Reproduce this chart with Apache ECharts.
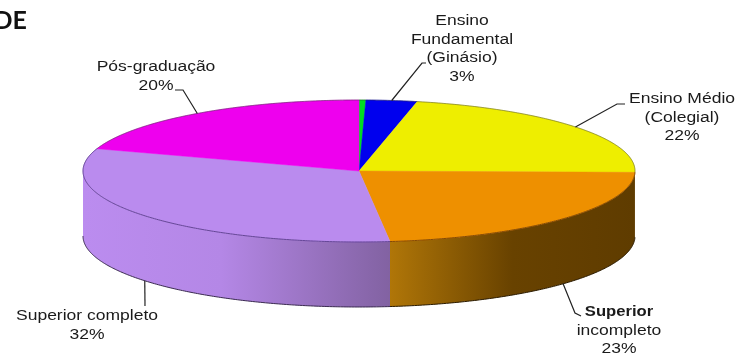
<!DOCTYPE html>
<html>
<head>
<meta charset="utf-8">
<style>html,body{margin:0;padding:0;background:#fff}#c{width:736px;height:355px}</style>
<script src="https://cdn.jsdelivr.net/npm/echarts@6/dist/echarts.min.js"></script>
</head>
<body>
<div id="c"></div>
<script>
const titleText = 'DE';
const categories = ['', 'Ensino Fundamental (Ginásio)', 'Ensino Médio (Colegial)', 'Superior incompleto', 'Superior completo', 'Pós-graduação'];
const values = [0.4, 3, 22, 23, 32, 20];
const labelLines = [
  [],
  ['Ensino', 'Fundamental', '(Ginásio)', '3%'],
  ['Ensino Médio', '(Colegial)', '22%'],
  ['Superior', 'incompleto', '23%'],
  ['Superior completo', '32%'],
  ['Pós-graduação', '20%']
];
const topColors = ['#00dd22', '#0000ee', '#eeee00', '#ee9000', '#ba8bee', '#ee00ee'];
const rimColors = [null, null, null, '#7a4000', '#5a3c8c', null];
const bottomEdgeColors = [null, null, null, '#2a1a00', '#3a2a50', null];
const wallStops = [
  null, null, null,
  [{offset: 0, color: '#b07608'}, {offset: 0.5, color: '#684200'}, {offset: 1, color: '#5f3c00'}],
  [{offset: 0, color: '#bb8cef'}, {offset: 0.45, color: '#b487e6'}, {offset: 1, color: '#8262a2'}],
  null
];
// layout
const cx = 359, cy = 171, ra = 276, rb = 71, depth = 65;
const labelCenters = [null, [462, 21], [682, 99], [619, 312], [87, 316], [156, 67]];
const lineStep = 18.8;
const leaderBends = [
  null,
  [[422, 63], [426, 63]],
  [[617, 104], [625, 104]],
  [[575, 313], [581, 316]],
  [[145, 306]],
  [[183, 90], [175, 90]]
];
const boldFirstLine = [false, false, false, true, false, false];
const fontPx = 14, textStretch = 1.25;

const total = values.reduce((a, b) => a + b, 0);
const P = (t, dy) => [cx + ra * Math.sin(t), cy - rb * Math.cos(t) + (dy || 0)];
function arc(t0, t1, dy) {
  const n = Math.max(2, Math.ceil(Math.abs(t1 - t0) / 0.01));
  const pts = [];
  for (let i = 0; i <= n; i++) pts.push(P(t0 + (t1 - t0) * i / n, dy));
  return pts;
}
const HALF = Math.PI / 2;

function renderItem(params, api) {
  const i = params.dataIndex;
  let before = 0;
  for (let k = 0; k < i; k++) before += values[k];
  const t0 = before / total * 2 * Math.PI;
  const t1 = (before + api.value(0)) / total * 2 * Math.PI;
  const mid = (t0 + t1) / 2;
  const children = [];

  // side wall: only the front half of the disc is visible
  const w0 = Math.max(t0, HALF), w1 = Math.min(t1, 3 * HALF);
  if (wallStops[i] && w1 > w0) {
    const upper = arc(w0, w1, 0), lower = arc(w1, w0, depth);
    const xs = upper.map(p => p[0]);
    const xa = Math.min.apply(null, xs), xb = Math.max.apply(null, xs);
    const g = new echarts.graphic.LinearGradient(xa, 0, xb, 0, wallStops[i], true);
    children.push({ type: 'polygon', shape: { points: upper.concat(lower) },
      style: { fill: g, stroke: 'none' }, z2: 1 });
    children.push({ type: 'polyline', shape: { points: arc(w0, w1, depth) },
      style: { fill: 'none', stroke: bottomEdgeColors[i], lineWidth: 1 }, z2: 2 });
  }

  // top face
  const top = [[cx, cy]].concat(arc(t0, t1, 0));
  children.push({ type: 'polygon', shape: { points: top },
    style: { fill: topColors[i], stroke: topColors[i], lineWidth: 0.5 }, z2: 3 });
  children.push({ type: 'polyline', shape: { points: arc(t0, t1, 0) },
    style: { fill: 'none', stroke: rimColors[i] || '#333', lineWidth: 1, opacity: rimColors[i] ? 0.9 : 0.45 }, z2: 4 });

  // leader
  if (leaderBends[i]) {
    const front = Math.cos(mid) < 0;
    const anchor = P(mid, front ? depth : 0);
    children.push({ type: 'polyline', shape: { points: [anchor].concat(leaderBends[i]) },
      style: { fill: 'none', stroke: '#222', lineWidth: 1.2 }, z2: 5 });
  }

  // label
  if (labelCenters[i]) {
    labelLines[i].forEach((line, j) => {
      const bold = boldFirstLine[i] && j === 0;
      children.push({
        type: 'text', x: labelCenters[i][0], y: labelCenters[i][1] + j * lineStep,
        scaleX: bold ? textStretch * 0.95 : textStretch, z2: 6,
        style: { text: line, fill: '#1a1a1a', align: 'center', verticalAlign: 'middle',
          font: (bold ? 'bold ' : '') + fontPx + 'px "Liberation Sans"' }
      });
    });
  }
  return { type: 'group', children };
}

const chart = echarts.init(document.getElementById('c'), null, { renderer: 'canvas' });
chart.setOption({
  animation: false,
  backgroundColor: '#ffffff',
  graphic: [{
    type: 'text', x: 27, y: 21, z: 10,
    style: { text: titleText, fill: '#111', align: 'right', verticalAlign: 'middle',
      font: 'bold 25px Lato' }
  }],
  series: [{
    type: 'custom',
    coordinateSystem: 'none',
    renderItem,
    silent: true,
    data: values.map((v, i) => ({ name: categories[i], value: [v] }))
  }]
});
</script>
</body>
</html>
